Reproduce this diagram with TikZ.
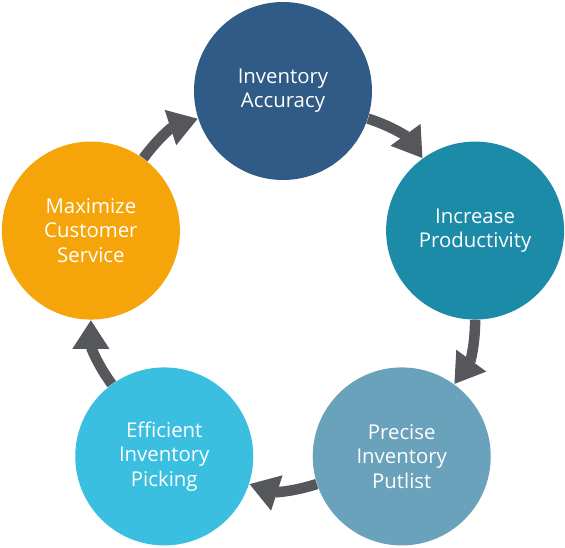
\documentclass[tikz,border=0pt]{standalone}
\usepackage{fontspec}
\setmainfont{Open Sans}
\usetikzlibrary{arrows.meta}
\definecolor{accblue}{HTML}{2F5B86}
\definecolor{prodteal}{HTML}{1B8BA7}
\definecolor{putgrey}{HTML}{69A2BA}
\definecolor{pickblue}{HTML}{3BBFE1}
\definecolor{servorange}{HTML}{F5A509}
\definecolor{arrowgrey}{HTML}{55575A}
\tikzset{
  font=\fontsize{11.6pt}{13.8pt}\selectfont,
  stepbox/.style ={circle, minimum size=35.6mm, inner sep=0pt, align=center, text=white},
  flow/.style    ={-{Triangle[width=7mm,length=5.8mm]}, line width=2.1mm, draw=arrowgrey},
}
\begin{document}
\begin{tikzpicture}[x=0.2mm, y=0.2mm]
  \useasboundingbox (-283,-255) rectangle (282,293);
  \node[stepbox, fill=accblue]    (acc)  at (90:202)   {Inventory\\Accuracy};
  \node[stepbox, fill=prodteal]   (prod) at (18:202)   {Increase\\Productivity};
  \node[stepbox, fill=putgrey]    (put)  at (-54:202)  {Precise\\Inventory\\Putlist};
  \node[stepbox, fill=pickblue]   (pick) at (-126:202) {Efficient\\Inventory\\Picking};
  \node[stepbox, fill=servorange] (serv) at (162:202)  {Maximize\\Customer\\Service};

  \draw[flow] (acc)  to[bend left=18] (prod);
  \draw[flow] (prod) to[bend left=18] (put);
  \draw[flow] (put)  to[bend left=18] (pick);
  \draw[flow] (pick) to[bend left=18] (serv);
  \draw[flow] (serv) to[bend left=18] (acc);
\end{tikzpicture}
\end{document}
